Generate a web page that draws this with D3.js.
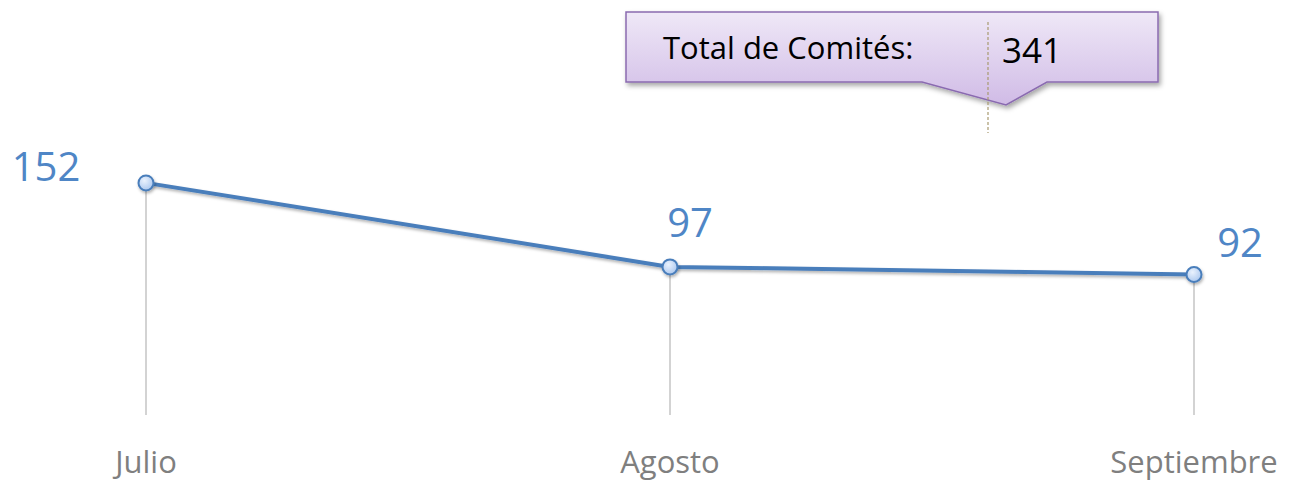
<!DOCTYPE html>
<html><head><meta charset="utf-8">
<script src="https://cdn.jsdelivr.net/npm/d3@7"></script>
<style>body{margin:0;background:#fff}svg{display:block}</style>
</head><body>
<script>
const categories = ["Julio", "Agosto", "Septiembre"];
const values = [152, 97, 92];
const totalLabel = "Total de Comités:";
const totalValue = 341;

const W = 1289, H = 483;
const FONT = "'Open Sans', Lato, sans-serif";
const svg = d3.select("body").append("svg").attr("width", W).attr("height", H);
const defs = svg.append("defs");

const g1 = defs.append("linearGradient").attr("id","boxg").attr("x1",0).attr("y1",0).attr("x2",0).attr("y2",1);
g1.append("stop").attr("offset","0%").attr("stop-color","#efe8f7");
g1.append("stop").attr("offset","100%").attr("stop-color","#d0bbe6");
const g2 = defs.append("radialGradient").attr("id","mk").attr("cx","40%").attr("cy","35%").attr("r","70%");
g2.append("stop").attr("offset","0%").attr("stop-color","#eaf2fd");
g2.append("stop").attr("offset","100%").attr("stop-color","#a9c6ee");
const f = defs.append("filter").attr("id","sh").attr("x","-10%").attr("y","-30%").attr("width","120%").attr("height","170%");
f.append("feDropShadow").attr("dx",2).attr("dy",3).attr("stdDeviation",2.5).attr("flood-color","#000").attr("flood-opacity",0.35);
const f2 = defs.append("filter").attr("id","sh2").attr("x","-50%").attr("y","-50%").attr("width","200%").attr("height","200%");
f2.append("feDropShadow").attr("dx",1).attr("dy",2).attr("stdDeviation",1.5).attr("flood-color","#000").attr("flood-opacity",0.3);

const x = d3.scalePoint().domain(categories).range([146, 1194]);
const y = d3.scaleLinear().domain([0, 200]).range([415, 415 - 200*1.527]);

// drop lines
svg.selectAll("line.drop").data(values).join("line")
  .attr("x1",(d,i)=>x(categories[i])).attr("x2",(d,i)=>x(categories[i]))
  .attr("y1",d=>y(d)).attr("y2",y(0))
  .attr("stroke","#c4c4c4").attr("stroke-width",1.5);

// category labels
svg.selectAll("text.cat").data(categories).join("text")
  .attr("x",d=>x(d)).attr("y",473).attr("text-anchor","middle")
  .attr("font-family",FONT).attr("font-size",31)
  .attr("fill","#7f7f7f").text(d=>d);

// line
const line = d3.line().x((d,i)=>x(categories[i])).y(d=>y(d));
svg.append("path").datum(values).attr("d",line).attr("fill","none")
  .attr("stroke","#4a7ebb").attr("stroke-width",4).attr("filter","url(#sh2)");

svg.selectAll("circle.mk").data(values).join("circle")
  .attr("cx",(d,i)=>x(categories[i])).attr("cy",d=>y(d)).attr("r",7.5)
  .attr("fill","url(#mk)").attr("stroke","#4a7ebb").attr("stroke-width",2).attr("filter","url(#sh2)");

// value labels
const offs = [[-100,-2],[20,-30],[46,-18]];
svg.selectAll("text.val").data(values).join("text")
  .attr("x",(d,i)=>x(categories[i]) + offs[i][0]).attr("y",(d,i)=>y(d)+offs[i][1])
  .attr("text-anchor","middle")
  .attr("font-family",FONT).attr("font-size",40)
  .attr("fill","#4f86c6").text(d=>d);

// callout
const cx0 = 626, cx1 = 1158, cy0 = 12, cy1 = 82;
const pts = [[cx0,cy0],[cx1,cy0],[cx1,cy1],[1047,cy1],[1006,105],[922,cy1],[cx0,cy1]];
svg.append("path").attr("d", d3.line()(pts) + "Z")
  .attr("fill","url(#boxg)").attr("stroke","#8a6bb0").attr("stroke-width",1.5).attr("filter","url(#sh)");
svg.append("line").attr("x1",988).attr("x2",988).attr("y1",22).attr("y2",133)
  .attr("stroke","#a89a70").attr("stroke-width",1.2).attr("stroke-dasharray","3,2");
svg.append("text").attr("x",663).attr("y",59)
  .attr("font-family",FONT).attr("font-size",31).attr("fill","#000").text(totalLabel);
svg.append("text").attr("x",1002).attr("y",63)
  .attr("font-family",FONT).attr("font-size",35).attr("fill","#000").text(totalValue);
</script>
</body></html>
